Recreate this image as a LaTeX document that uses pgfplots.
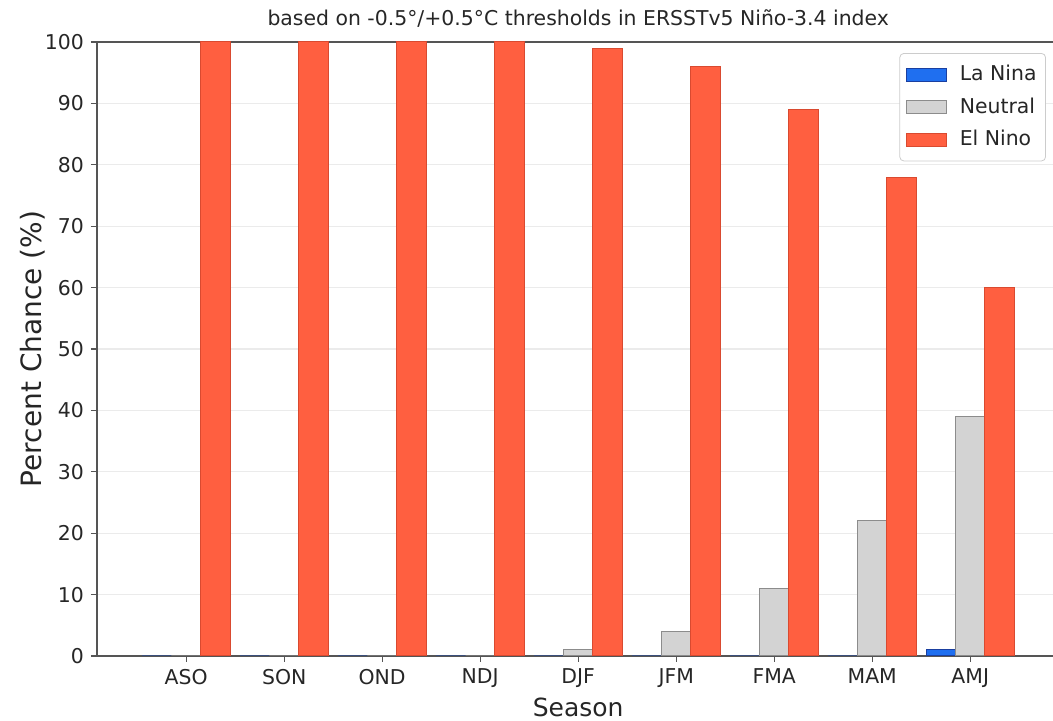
\documentclass[border=0pt]{standalone}
\usepackage{fontspec}
\setmainfont{DejaVu Sans}
\usepackage{pgfplots}
\pgfplotsset{compat=1.18}
\definecolor{lanina}{HTML}{1F6FF0}
\definecolor{laninaedge}{HTML}{1A3FA0}
\definecolor{neutral}{HTML}{D3D3D3}
\definecolor{neutraledge}{HTML}{8C8C8C}
\definecolor{elnino}{HTML}{FF5F40}
\definecolor{elninoedge}{HTML}{D94A30}
\definecolor{spine}{HTML}{555555}
\definecolor{txt}{HTML}{262626}
\pgfplotsset{mylegend/.style={legend image code/.code={\draw[##1, sharp corners] (0pt,-3.25pt) rectangle (20pt,3.25pt);}}}

\begin{document}
\begin{tikzpicture}
\begin{axis}[
  at={(0,0)}, anchor=south west,
  scale only axis, width=481.2pt, height=307pt,
  xmin=-0.91, xmax=8.91, ymin=0, ymax=100,
  xtick={0,...,8}, xticklabels={ASO,SON,OND,NDJ,DJF,JFM,FMA,MAM,AMJ},
  ytick={0,10,...,100},
  tick align=outside, tick pos=left, major tick length=3pt,
  ymajorgrids, grid style={color=black!8, line width=0.6pt},
  axis line style={spine, line width=0.8pt},
  every tick/.style={spine, line width=0.6pt},
  ticklabel style={font=\fontsize{10.2}{12}\selectfont, text=txt},
  /pgf/number format/assume math mode=true,
  xlabel={Season}, ylabel={Percent Chance (\%)},
  xlabel style={font=\fontsize{12.5}{14}\selectfont, text=txt, at={(axis description cs:0.5,-0.083)}, anchor=center},
  ylabel style={font=\fontsize{14}{16}\selectfont, text=txt, at={(axis description cs:-0.0665,0.5)}, anchor=center},
  title={based on -0.5°/+0.5°C thresholds in ERSSTv5 Niño-3.4 index},
  title style={font=\fontsize{10.2}{12}\selectfont, text=txt, at={(axis description cs:0.5,1.018)}, anchor=center},
  ybar, bar width=0.3,
  legend style={at={(0.986,0.982)}, anchor=north east, draw=black!20, rounded corners=2pt,
    font=\fontsize{10.2}{12}\selectfont, text=txt, row sep=4pt,
    inner xsep=3pt, inner ysep=4.5pt, nodes={inner sep=1.5pt}},
  legend cell align=left,
  /tikz/every odd column/.append style={column sep=5pt},
]
\addplot[fill=lanina, draw=laninaedge, line width=0.5pt, bar shift=-0.3, mylegend]
  coordinates {(0,0) (1,0) (2,0) (3,0) (4,0) (5,0) (6,0) (7,0) (8,1)};
\addplot[fill=neutral, draw=neutraledge, line width=0.5pt, bar shift=0, mylegend]
  coordinates {(0,0) (1,0) (2,0) (3,0) (4,1) (5,4) (6,11) (7,22) (8,39)};
\addplot[fill=elnino, draw=elninoedge, line width=0.5pt, bar shift=0.3, mylegend]
  coordinates {(0,100) (1,100) (2,100) (3,100) (4,99) (5,96) (6,89) (7,78) (8,60)};
\legend{La Nina, Neutral, El Nino}
\end{axis}
\pgfresetboundingbox
\useasboundingbox (-48.5pt,-32.5pt) rectangle (478pt,328pt);
\end{tikzpicture}
\end{document}
